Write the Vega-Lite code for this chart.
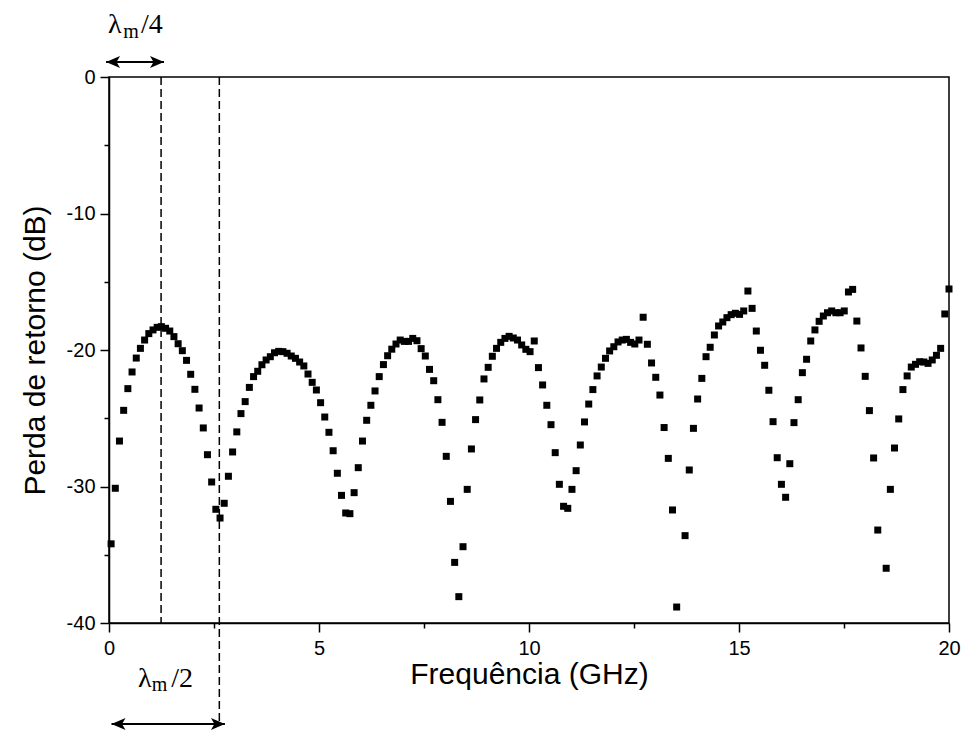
{
  "$schema": "https://vega.github.io/schema/vega-lite/v6.json",
  "width": 840,
  "height": 546,
  "autosize": {"type": "none"},
  "padding": {"left": 109, "top": 77, "right": 13, "bottom": 110},
  "background": "white",
  "config": {
    "view": {"stroke": "black", "strokeWidth": 1.5},
    "font": "Liberation Sans",
    "axis": {"labelFont": "Liberation Sans", "titleFont": "Liberation Sans", "labelColor": "black", "titleColor": "black", "domainColor": "black", "tickColor": "black", "titleFontWeight": "normal", "grid": false}
  },
  "datasets": {
    "rl": [
      {"f":0.050,"rl":-34.2},{"f":0.150,"rl":-30.13},{"f":0.249,"rl":-26.67},{"f":0.349,"rl":-24.42},{"f":0.449,"rl":-22.83},
      {"f":0.549,"rl":-21.61},{"f":0.649,"rl":-20.59},{"f":0.748,"rl":-19.88},{"f":0.848,"rl":-19.27},{"f":0.948,"rl":-18.8},
      {"f":1.048,"rl":-18.53},{"f":1.147,"rl":-18.34},{"f":1.247,"rl":-18.29},{"f":1.347,"rl":-18.41},{"f":1.447,"rl":-18.61},
      {"f":1.546,"rl":-19.02},{"f":1.646,"rl":-19.54},{"f":1.746,"rl":-20.05},{"f":1.846,"rl":-20.76},{"f":1.945,"rl":-21.78},
      {"f":2.045,"rl":-22.88},{"f":2.145,"rl":-24.25},{"f":2.245,"rl":-25.71},{"f":2.344,"rl":-27.67},{"f":2.444,"rl":-29.67},
      {"f":2.544,"rl":-31.67},{"f":2.644,"rl":-32.31},{"f":2.743,"rl":-31.23},{"f":2.843,"rl":-29.25},{"f":2.943,"rl":-27.47},
      {"f":3.043,"rl":-26.0},{"f":3.142,"rl":-24.66},{"f":3.242,"rl":-23.78},{"f":3.342,"rl":-22.74},{"f":3.442,"rl":-21.95},
      {"f":3.541,"rl":-21.56},{"f":3.641,"rl":-21.08},{"f":3.741,"rl":-20.73},{"f":3.841,"rl":-20.49},{"f":3.940,"rl":-20.2},
      {"f":4.040,"rl":-20.1},{"f":4.140,"rl":-20.12},{"f":4.240,"rl":-20.24},{"f":4.339,"rl":-20.44},{"f":4.439,"rl":-20.61},
      {"f":4.539,"rl":-20.88},{"f":4.639,"rl":-21.17},{"f":4.738,"rl":-21.76},{"f":4.838,"rl":-22.37},{"f":4.938,"rl":-22.93},
      {"f":5.038,"rl":-23.86},{"f":5.137,"rl":-24.91},{"f":5.237,"rl":-26.03},{"f":5.337,"rl":-27.38},{"f":5.437,"rl":-29.03},
      {"f":5.536,"rl":-30.65},{"f":5.636,"rl":-31.94},{"f":5.736,"rl":-31.99},{"f":5.836,"rl":-30.45},{"f":5.935,"rl":-28.62},
      {"f":6.035,"rl":-26.67},{"f":6.135,"rl":-25.15},{"f":6.235,"rl":-24.05},{"f":6.334,"rl":-23.0},{"f":6.434,"rl":-21.95},
      {"f":6.534,"rl":-21.07},{"f":6.634,"rl":-20.42},{"f":6.733,"rl":-19.94},{"f":6.833,"rl":-19.56},{"f":6.933,"rl":-19.27},
      {"f":7.033,"rl":-19.37},{"f":7.132,"rl":-19.37},{"f":7.232,"rl":-19.15},{"f":7.332,"rl":-19.32},{"f":7.432,"rl":-19.9},
      {"f":7.531,"rl":-20.44},{"f":7.631,"rl":-21.42},{"f":7.731,"rl":-22.25},{"f":7.831,"rl":-23.64},{"f":7.930,"rl":-25.3},
      {"f":8.030,"rl":-27.79},{"f":8.130,"rl":-31.09},{"f":8.230,"rl":-35.56},{"f":8.329,"rl":-38.07},{"f":8.429,"rl":-34.41},
      {"f":8.529,"rl":-30.21},{"f":8.629,"rl":-27.25},{"f":8.728,"rl":-25.1},{"f":8.828,"rl":-23.66},{"f":8.928,"rl":-22.12},
      {"f":9.028,"rl":-21.27},{"f":9.127,"rl":-20.46},{"f":9.227,"rl":-19.88},{"f":9.327,"rl":-19.44},{"f":9.427,"rl":-19.15},
      {"f":9.526,"rl":-19.0},{"f":9.626,"rl":-19.12},{"f":9.726,"rl":-19.27},{"f":9.826,"rl":-19.63},{"f":9.925,"rl":-19.95},
      {"f":10.025,"rl":-20.12},{"f":10.125,"rl":-19.34},{"f":10.225,"rl":-21.29},{"f":10.324,"rl":-22.56},{"f":10.424,"rl":-24.05},
      {"f":10.524,"rl":-25.47},{"f":10.624,"rl":-27.52},{"f":10.723,"rl":-29.84},{"f":10.823,"rl":-31.45},{"f":10.923,"rl":-31.6},
      {"f":11.023,"rl":-30.21},{"f":11.122,"rl":-28.84},{"f":11.222,"rl":-26.96},{"f":11.322,"rl":-25.27},{"f":11.422,"rl":-23.96},
      {"f":11.521,"rl":-22.9},{"f":11.621,"rl":-21.9},{"f":11.721,"rl":-21.25},{"f":11.821,"rl":-20.61},{"f":11.920,"rl":-20.07},
      {"f":12.020,"rl":-19.76},{"f":12.120,"rl":-19.41},{"f":12.220,"rl":-19.27},{"f":12.319,"rl":-19.22},{"f":12.419,"rl":-19.44},
      {"f":12.519,"rl":-19.56},{"f":12.619,"rl":-19.27},{"f":12.718,"rl":-17.6},{"f":12.818,"rl":-19.58},{"f":12.918,"rl":-20.95},
      {"f":13.018,"rl":-22.0},{"f":13.117,"rl":-23.3},{"f":13.217,"rl":-25.68},{"f":13.317,"rl":-27.94},{"f":13.417,"rl":-31.72},
      {"f":13.516,"rl":-38.83},{"f":13.716,"rl":-33.6},{"f":13.816,"rl":-28.79},{"f":13.915,"rl":-25.74},{"f":14.015,"rl":-23.59},
      {"f":14.115,"rl":-22.08},{"f":14.215,"rl":-20.49},{"f":14.314,"rl":-19.8},{"f":14.414,"rl":-18.9},{"f":14.514,"rl":-18.24},
      {"f":14.614,"rl":-17.95},{"f":14.713,"rl":-17.63},{"f":14.813,"rl":-17.41},{"f":14.913,"rl":-17.31},{"f":15.013,"rl":-17.39},
      {"f":15.112,"rl":-17.14},{"f":15.212,"rl":-15.68},{"f":15.312,"rl":-16.95},{"f":15.412,"rl":-18.61},{"f":15.511,"rl":-20.02},
      {"f":15.611,"rl":-21.12},{"f":15.711,"rl":-22.95},{"f":15.811,"rl":-25.25},{"f":15.910,"rl":-27.89},{"f":16.010,"rl":-29.84},
      {"f":16.110,"rl":-30.79},{"f":16.210,"rl":-28.33},{"f":16.309,"rl":-25.32},{"f":16.409,"rl":-23.64},{"f":16.509,"rl":-21.66},
      {"f":16.609,"rl":-20.68},{"f":16.708,"rl":-19.34},{"f":16.808,"rl":-18.53},{"f":16.908,"rl":-17.9},{"f":17.008,"rl":-17.51},
      {"f":17.107,"rl":-17.27},{"f":17.207,"rl":-17.14},{"f":17.307,"rl":-17.27},{"f":17.407,"rl":-17.27},{"f":17.506,"rl":-17.14},
      {"f":17.606,"rl":-15.75},{"f":17.706,"rl":-15.56},{"f":17.806,"rl":-17.88},{"f":17.905,"rl":-19.85},{"f":18.005,"rl":-21.93},
      {"f":18.105,"rl":-24.44},{"f":18.205,"rl":-27.91},{"f":18.304,"rl":-33.19},{"f":18.504,"rl":-35.99},{"f":18.604,"rl":-30.21},
      {"f":18.703,"rl":-27.18},{"f":18.803,"rl":-25.05},{"f":18.903,"rl":-22.9},{"f":19.003,"rl":-21.9},{"f":19.102,"rl":-21.25},
      {"f":19.202,"rl":-21.05},{"f":19.302,"rl":-20.86},{"f":19.402,"rl":-20.88},{"f":19.501,"rl":-20.98},{"f":19.601,"rl":-20.73},
      {"f":19.701,"rl":-20.39},{"f":19.801,"rl":-19.88},{"f":19.900,"rl":-17.36},{"f":20.000,"rl":-15.53}
    ],
    "dashes": [{"f": 1.24, "y": 0, "y2": -40}, {"f": 2.627, "y": 0, "y2": -47.4}],
    "arrows": [{"f": -0.07, "f2": 1.31, "y": 1.1}, {"f": 0.06, "f2": 2.76, "y": -47.4}],
    "leftTips": [{"f": -0.07, "y": 1.1}, {"f": 0.06, "y": -47.4}],
    "rightTips": [{"f": 1.31, "y": 1.1}, {"f": 2.76, "y": -47.4}],
    "lamMain": [{"f": -0.024, "y": 3.22}, {"f": 0.69, "y": -44.71}],
    "lamSub": [{"f": 0.34, "y": 2.85}, {"f": 1.017, "y": -45.0}],
    "lamFrac": [{"f": 0.76, "y": 3.22, "t": "/4"}, {"f": 1.48, "y": -44.71, "t": "/2"}]
  },
  "layer": [
    {
      "data": {"name": "rl"},
      "mark": {"type": "point", "shape": "square", "filled": true, "size": 49, "color": "black", "opacity": 1},
      "encoding": {
        "x": {"field": "f", "type": "quantitative", "scale": {"domain": [0, 20], "nice": false, "zero": false},
          "axis": {"title": "Frequência (GHz)", "values": [0, 2.5, 5, 7.5, 10, 12.5, 15, 17.5, 20],
            "labelExpr": "datum.value % 5 === 0 ? '' + datum.value : ''",
            "tickSize": {"condition": {"test": "datum.value % 5 !== 0", "value": 5}, "value": 9},
            "tickWidth": 1.5, "domainWidth": 1.5, "labelFontSize": 20, "titleFontSize": 30, "labelPadding": 6, "titlePadding": 1, "labelFlush": false}},
        "y": {"field": "rl", "type": "quantitative", "scale": {"domain": [-40, 0], "nice": false, "zero": false},
          "axis": {"title": "Perda de retorno (dB)", "values": [0, -5, -10, -15, -20, -25, -30, -35, -40],
            "labelExpr": "datum.value % 10 === 0 ? '' + datum.value : ''",
            "tickSize": {"condition": {"test": "datum.value % 10 !== 0", "value": 5}, "value": 9},
            "tickWidth": 1.5, "domainWidth": 1.5, "labelFontSize": 20, "titleFontSize": 30, "labelPadding": 5, "titlePadding": 16, "labelFlush": false}}
      }
    },
    {
      "data": {"name": "dashes"},
      "mark": {"type": "rule", "color": "black", "strokeWidth": 1.5, "strokeDash": [8, 4], "clip": false},
      "encoding": {
        "x": {"field": "f", "type": "quantitative"},
        "y": {"field": "y", "type": "quantitative"},
        "y2": {"field": "y2"}
      }
    },
    {
      "data": {"name": "arrows"},
      "mark": {"type": "rule", "color": "black", "strokeWidth": 2, "clip": false},
      "encoding": {
        "x": {"field": "f", "type": "quantitative"},
        "x2": {"field": "f2"},
        "y": {"field": "y", "type": "quantitative"}
      }
    },
    {
      "data": {"name": "leftTips"},
      "mark": {"type": "point", "shape": "M0,0 L2,-0.85 L1.5,0 L2,0.85 Z", "filled": true, "size": 196, "color": "black", "opacity": 1, "clip": false},
      "encoding": {
        "x": {"field": "f", "type": "quantitative"},
        "y": {"field": "y", "type": "quantitative"}
      }
    },
    {
      "data": {"name": "rightTips"},
      "mark": {"type": "point", "shape": "M0,0 L-2,-0.85 L-1.5,0 L-2,0.85 Z", "filled": true, "size": 196, "color": "black", "opacity": 1, "clip": false},
      "encoding": {
        "x": {"field": "f", "type": "quantitative"},
        "y": {"field": "y", "type": "quantitative"}
      }
    },
    {
      "data": {"name": "lamMain"},
      "mark": {"type": "text", "text": "λ", "font": "Liberation Serif", "fontSize": 28, "align": "left", "baseline": "alphabetic", "color": "black", "clip": false},
      "encoding": {
        "x": {"field": "f", "type": "quantitative"},
        "y": {"field": "y", "type": "quantitative"}
      }
    },
    {
      "data": {"name": "lamSub"},
      "mark": {"type": "text", "text": "m", "font": "Liberation Serif", "fontSize": 20, "align": "left", "baseline": "alphabetic", "color": "black", "clip": false},
      "encoding": {
        "x": {"field": "f", "type": "quantitative"},
        "y": {"field": "y", "type": "quantitative"}
      }
    },
    {
      "data": {"name": "lamFrac"},
      "mark": {"type": "text", "font": "Liberation Serif", "fontSize": 28, "align": "left", "baseline": "alphabetic", "color": "black", "clip": false},
      "encoding": {
        "x": {"field": "f", "type": "quantitative"},
        "y": {"field": "y", "type": "quantitative"},
        "text": {"field": "t"}
      }
    }
  ]
}
